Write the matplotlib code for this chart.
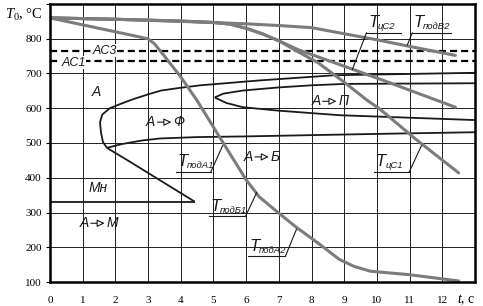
import matplotlib
matplotlib.use("Agg")
import matplotlib.pyplot as plt
from matplotlib.transforms import offset_copy, blended_transform_factory

plt.rcParams['mathtext.fontset'] = 'custom'
plt.rcParams['mathtext.rm'] = 'Liberation Serif'
plt.rcParams['mathtext.it'] = 'Liberation Serif:italic'

# gray cooling curves
t_podA1 = [0, 1, 2, 3, 3.2, 3.5, 4.0, 4.5, 5.3, 6.0, 6.4, 7.0, 7.5, 8.2, 8.85, 9.3, 9.8, 11.0, 12.5]
T_podA1 = [860, 840, 820, 800, 785, 750, 690, 622, 500, 394, 345, 298, 260, 212, 165, 145, 131, 121, 103]

t_cs1 = [0, 2, 4, 5, 5.5, 6, 6.5, 7.0, 7.6, 8.2, 9.0, 9.7, 10.1, 11.2, 12.5]
T_cs1 = [860, 856, 851, 847, 842, 830, 814, 794, 762, 731, 675, 623, 597, 510, 414]

t_cs2 = [0, 2, 4, 5, 5.5, 6, 6.5, 7.0, 7.6, 8.85, 10.2, 12.4]
T_cs2 = [860, 856, 851, 847, 842, 830, 814, 794, 768, 726, 680, 603]

t_podV2 = [0, 2, 4, 6, 7, 8, 8.85, 10, 11, 12.4]
T_podV2 = [860, 856, 850, 843, 838, 832, 817, 797, 778, 752]

# black transformation curves
t_fer_up = [1.74, 1.62, 1.56, 1.53, 1.6, 1.83, 2.2, 2.54, 3.0, 3.4, 4.0, 4.6, 6.4, 8.7, 13]
T_fer_up = [486, 503, 530, 560, 582, 600, 614, 626, 640, 651, 659, 666, 680, 695, 702]

t_fer_low = [1.74, 2.2, 2.8, 3.36, 4.5, 6, 8.2, 10.5, 13]
T_fer_low = [486, 497, 507, 513, 517, 519, 523, 527, 531]

t_bain = [1.74, 2.5, 3.36, 4.43]
T_bain = [486, 443, 393, 331]

t_ms = [0, 4.43]
T_ms = [330, 330]

t_per_up = [5.04, 5.3, 5.9, 7, 8, 9, 13]
T_per_up = [631, 642, 651, 660, 666, 670, 672]
t_per_low = [5.04, 5.4, 5.9, 7, 8, 8.85, 13]
T_per_low = [631, 615, 603, 593, 586, 580, 566]

AC3 = 765
AC1 = 735

x_ticks = list(range(0, 14))
x_labels = [str(i) for i in range(0, 13)] + ['']
y_ticks = list(range(100, 1000, 100))
y_labels = [str(v) for v in range(100, 900, 100)] + ['']

GRAY = '#7c7c7c'
INK = '#1a1a1a'
LBL = ['Liberation Sans', 'DejaVu Sans']

fig = plt.figure(figsize=(4.83, 3.06), dpi=100)
ax = fig.add_axes([50 / 483, 24 / 306, 425 / 483, 278 / 306])
ax.set_xlim(0, 13)
ax.set_ylim(100, 900)

ax.set_xticks(x_ticks)
ax.set_xticklabels(x_labels, fontfamily='Liberation Serif', fontsize=8)
ax.set_yticks(y_ticks)
ax.set_yticklabels(y_labels, fontfamily='Liberation Serif', fontsize=8)
ax.tick_params(axis='x', length=0, pad=10)
ax.tick_params(axis='y', length=3, width=0.8, pad=3)
ax.grid(True, color='#202020', lw=0.7)
ax.set_axisbelow(True)
for s in ax.spines.values():
    s.set_linewidth(1.8)

# critical points
ax.axhline(AC3, color='black', lw=1.6, ls=(0, (3.2, 1.8)))
ax.axhline(AC1, color='black', lw=1.6, ls=(0, (3.2, 1.8)))

# transformation regions
for tx, ty in [(t_fer_up, T_fer_up), (t_fer_low, T_fer_low), (t_bain, T_bain),
               (t_ms, T_ms), (t_per_up, T_per_up), (t_per_low, T_per_low)]:
    ax.plot(tx, ty, color=INK, lw=1.3, solid_capstyle='butt')

# cooling curves
for tx, ty in [(t_podV2, T_podV2), (t_cs2, T_cs2), (t_cs1, T_cs1), (t_podA1, T_podA1)]:
    ax.plot(tx, ty, color=GRAY, lw=2.2, solid_capstyle='round')


def txt(x, y, s, size=10, **kw):
    ax.text(x, y, s, fontsize=size, family=LBL, style='italic', color=INK,
            ha='center', va='center', **kw)


txt(1.68, 766, 'AC3', size=9, bbox=dict(fc='white', ec='none', pad=0.3))
txt(0.73, 731, 'AC1', size=9, bbox=dict(fc='white', ec='none', pad=0.3))
txt(1.43, 646, 'A')
txt(1.47, 371, 'Мн')


def trans(x, y, a, b):
    tr_a = offset_copy(ax.transData, fig=fig, x=-6.5, y=0, units='points')
    tr_b = offset_copy(ax.transData, fig=fig, x=6.5, y=0, units='points')
    ax.text(x, y, a, transform=tr_a, fontsize=10, family=LBL, style='italic',
            color=INK, ha='right', va='center')
    ax.text(x, y, b, transform=tr_b, fontsize=10, family=LBL, style='italic',
            color=INK, ha='left', va='center')
    tr_s = offset_copy(ax.transData, fig=fig, x=-5, y=0, units='points')
    tr_e = offset_copy(ax.transData, fig=fig, x=5, y=0, units='points')
    p0 = tr_s.transform((x, y))
    p1 = tr_e.transform((x, y))
    ax.annotate('', xy=p1, xytext=p0, xycoords='figure pixels',
                textcoords='figure pixels',
                arrowprops=dict(arrowstyle='-|>,head_length=0.45,head_width=0.22',
                                fc='white', ec=INK, lw=0.8, shrinkA=0, shrinkB=0))


def tlabel(x0, x1, y, xp, yp, sub, from_left=False):
    ax.plot([x0, x1], [y, y], color=INK, lw=0.8)
    xs = x0 if from_left else x1
    ax.plot([xs, xp], [y, yp], color=INK, lw=0.8)
    tr_t = offset_copy(ax.transData, fig=fig, x=1.2, y=2, units='points')
    ax.text(x0, y, 'T', transform=tr_t, fontsize=12, family=LBL, style='italic',
            color=INK, ha='left', va='bottom')
    tr_s = offset_copy(ax.transData, fig=fig, x=7.8, y=1, units='points')
    ax.text(x0, y, sub, transform=tr_s, fontsize=6.8, family=LBL, style='italic',
            color=INK, ha='left', va='bottom')


fig.canvas.draw()
trans(3.5, 560, 'A', 'Ф')
trans(8.55, 620, 'A', 'П')
trans(6.48, 460, 'A', 'Б')
trans(1.46, 269, 'A', 'M')

tlabel(9.68, 10.75, 817, 9.25, 712, 'цС2', from_left=True)
tlabel(11.08, 12.27, 817, 10.93, 782, 'подВ2', from_left=True)
tlabel(9.92, 10.99, 417, 11.36, 492, 'цС1')
tlabel(3.85, 4.92, 417, 5.28, 492, 'подА1')
tlabel(4.86, 5.98, 289, 6.32, 357, 'подБ1')
tlabel(6.05, 7.2, 174, 7.54, 252, 'подА2')

ax.text(-0.106, 0.962, r'$T_0$, °C', transform=ax.transAxes, fontsize=10.5,
        family='Liberation Serif', ha='left', va='center')
ax.text(12.72, -0.062, r'$t$, с', transform=blended_transform_factory(ax.transData, ax.transAxes),
        fontsize=10, family='Liberation Serif', ha='center', va='center')

fig.savefig('out.png', dpi=100)
